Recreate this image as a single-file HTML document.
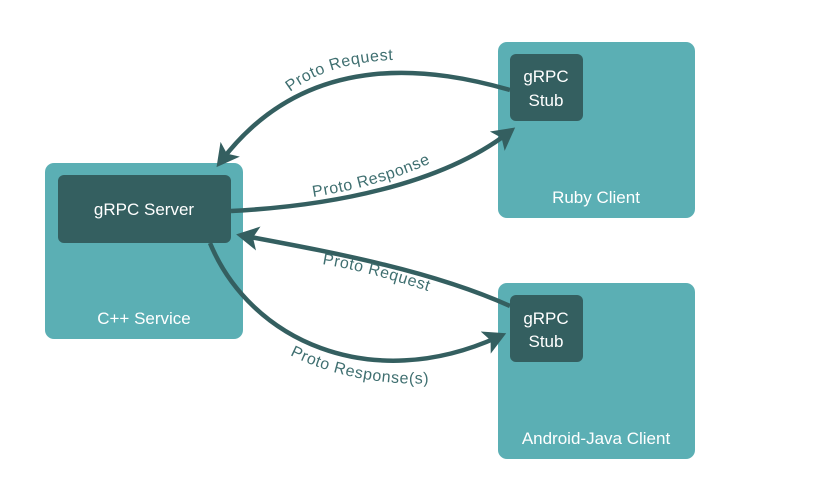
<!DOCTYPE html>
<html><head><meta charset="utf-8"><style>
html,body{margin:0;padding:0;background:#fff;}
svg{display:block;}
text{font-family:"Liberation Sans",sans-serif;}
</style></head><body>
<svg width="837" height="501" viewBox="0 0 837 501" xmlns="http://www.w3.org/2000/svg">
<defs>
<marker id="a" markerWidth="6" markerHeight="6" refX="3" refY="3" orient="auto" markerUnits="strokeWidth">
<path d="M0,0.3 L5,3 L0,5.7 L1.2,3 Z" fill="#345f60"/>
</marker>
<path id="t1" d="M290,92 C330,62 380,58 430,60"/>
<path id="t2" d="M313,197 C370,188 420,172 465,145"/>
<path id="t3" d="M322,264 C370,272 410,285 455,300"/>
<path id="t4" d="M290,355 C335,378 400,390 460,380"/>
</defs>
<rect x="45" y="163" width="198" height="176" rx="9" fill="#5bafb4"/>
<rect x="58" y="175" width="173" height="68" rx="6" fill="#345f60"/>
<text x="144" y="215" fill="#fff" font-size="17" text-anchor="middle">gRPC Server</text>
<text x="144" y="324" fill="#fff" font-size="17" text-anchor="middle">C++ Service</text>

<rect x="498" y="42" width="197" height="176" rx="9" fill="#5bafb4"/>
<rect x="510" y="54" width="73" height="67" rx="6" fill="#345f60"/>
<text x="546" y="82" fill="#fff" font-size="17" text-anchor="middle">gRPC</text>
<text x="546" y="106" fill="#fff" font-size="17" text-anchor="middle">Stub</text>
<text x="596" y="203" fill="#fff" font-size="17" text-anchor="middle">Ruby Client</text>

<rect x="498" y="283" width="197" height="176" rx="9" fill="#5bafb4"/>
<rect x="510" y="295" width="73" height="67" rx="6" fill="#345f60"/>
<text x="546" y="324" fill="#fff" font-size="17" text-anchor="middle">gRPC</text>
<text x="546" y="347" fill="#fff" font-size="17" text-anchor="middle">Stub</text>
<text x="596" y="444" fill="#fff" font-size="17" text-anchor="middle">Android-Java Client</text>

<g fill="none" stroke="#345f60" stroke-width="4.5">
<path d="M510,90 C440,70 310,45 222,160" marker-end="url(#a)"/>
<path d="M231,211 C330,206 440,185 508,133" marker-end="url(#a)"/>
<path d="M510,306 C430,270 330,252 245,236" marker-end="url(#a)"/>
<path d="M210,243 C250,340 370,395 498,337" marker-end="url(#a)"/>
</g>
<g fill="#3f6f70" font-size="16" letter-spacing="0.6">
<text><textPath href="#t1">Proto Request</textPath></text>
<text><textPath href="#t2">Proto Response</textPath></text>
<text><textPath href="#t3">Proto Request</textPath></text>
<text><textPath href="#t4">Proto Response(s)</textPath></text>
</g>
</svg>
</body></html>
